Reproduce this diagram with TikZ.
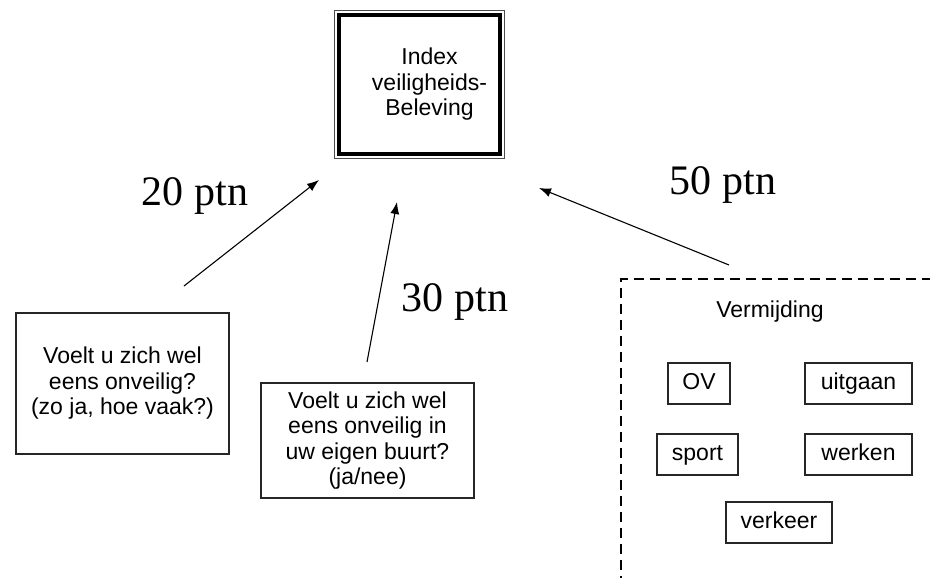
\documentclass[tikz,border=0pt]{standalone}
\usepackage{fontspec}
\setmainfont{Liberation Serif}
\setsansfont{Liberation Sans}
\usetikzlibrary{arrows.meta, calc}

\begin{document}
\begin{tikzpicture} [x=1pt, y=-1pt,
    txt/.style = {align=center, inner sep=0pt, font=\sffamily\fontsize{23}{25.5}\selectfont},
    box/.style = {txt, draw=black!85, line width=1.2pt},
    item/.style = {box, minimum height=41pt, text height=17pt, text depth=5pt},
    weight/.style = {font=\fontsize{42}{42}\selectfont}]

        \useasboundingbox (0,0) rectangle (930,578);

        % index box with its double frame
        \node (index) [draw, line width=3.5pt, outer sep=0pt, minimum width=161pt,
        minimum height=139pt] at (419.5,84.5) {};
        \node (index-text) [txt, xshift=10pt] at (index) {Index\\veiligheids-\\Beleving};
        \draw [line width=0.8pt, black!70] ($(index.north west)+(-4.5pt,4.5pt)$)
        rectangle ($(index.south east)+(4.5pt,-4.5pt)$);

        % questions
        \node (q1) [box, minimum width=213pt, minimum height=141pt] at (122.5,383.5)
        {Voelt u zich wel\\eens onveilig?\\(zo ja, hoe vaak?)};
        \node (q2) [box, minimum width=213pt, minimum height=115pt] at (367.5,440.5)
        {Voelt u zich wel\\eens onveilig in\\uw eigen buurt?\\(ja/nee)};

        % avoidance group
        \coordinate (v-ne) at (932,279); \coordinate (v-nw) at (621,279);
        \coordinate (v-sw) at (621,580);
        \draw [dashed, dash pattern=on 10pt off 6pt, line width=1.1pt] (v-ne) -- (v-nw) -- (v-sw);
        \node (vermijding) [txt] at (770,312) {Vermijding};
        \node (ov) [item, minimum width=62pt] at (699,383.5) {OV};
        \node (uitgaan) [item, minimum width=107pt] at (858.5,383.5) {uitgaan};
        \node (sport) [item, minimum width=81pt] at (697.5,454.5) {sport};
        \node (werken) [item, minimum width=107pt] at (858.5,454.5) {werken};
        \node (verkeer) [item, minimum width=106pt] at (779,522.5) {verkeer};

        % arrows and weights
        \coordinate (t1) at (184,286); \coordinate (h1) at (319,180);
        \coordinate (t2) at (367,362); \coordinate (h2) at (397,202);
        \coordinate (t3) at (729,265); \coordinate (h3) at (539,188);

        \path [-{Latex[length=12pt,width=9pt]}, line width=1.1pt]
            (t1) edge (h1) (t2) edge (h2) (t3) edge (h3);

        \node (w1) [weight] at (195,196) {20 ptn};
        \node (w2) [weight] at (455,302) {30 ptn};
        \node (w3) [weight] at (723,185) {50 ptn};

    \end{tikzpicture}
\end{document}
